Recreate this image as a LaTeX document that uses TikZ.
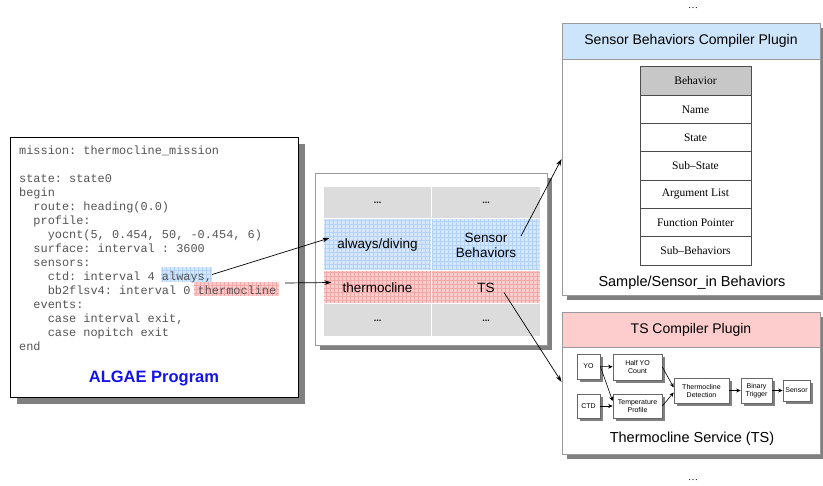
\documentclass[tikz,border=0pt]{standalone}
\usepackage{fontspec}
\setmainfont{Liberation Serif}
\setsansfont{Liberation Sans}
\setmonofont{Liberation Mono}
\usetikzlibrary{positioning,arrows.meta,calc,shadows}

\definecolor{cellblue}{HTML}{D4E7FC}
\definecolor{gridblue}{HTML}{B4D2F5}
\definecolor{cellred}{HTML}{FCCDCD}
\definecolor{gridred}{HTML}{F0A8A8}
\definecolor{cellgray}{HTML}{DCDCDC}
\definecolor{headblue}{HTML}{CDE5FA}
\definecolor{headred}{HTML}{FDCCCC}
\definecolor{codegray}{HTML}{555555}
\definecolor{algaeblue}{HTML}{1414E6}
\definecolor{shadowgray}{HTML}{808080}
\definecolor{framegray}{HTML}{9A9A9A}

\newcommand{\codetab}{\hspace*{1.2em}}

\begin{document}
\begin{tikzpicture}[x=1pt, y=-1pt,
    arrow/.style={-{Stealth[length=7pt,width=4.5pt]}, line width=0.7pt},
    minarrow/.style={-{Stealth[length=4.5pt,width=4pt]}, line width=0.6pt},
    panel/.style={draw=#1, fill=white, line width=0.9pt, inner sep=0pt},
    shade/.style={drop shadow={shadow xshift=#1, shadow yshift=-#1, fill=shadowgray, opacity=1}},
    gridcell/.style 2 args={fill=#1, inner sep=0pt, path picture={
        \draw[#2, line width=0.3pt, step=4pt] (path picture bounding box.south west)
            grid (path picture bounding box.north east);}},
    cellbox/.style={draw=white, line width=1pt, minimum width=109pt, minimum height=#1,
                font=\sffamily\fontsize{13.5}{15}\selectfont, align=center, inner sep=0pt},
    dots/.style={font=\sffamily\bfseries\fontsize{9}{10}\selectfont},
    code/.style={anchor=north west, align=left, inner sep=0pt, text=codegray,
                font=\ttfamily\fontsize{11.9}{14}\selectfont},
    headbox/.style={draw=framegray, line width=0.9pt, minimum width=258pt, minimum height=#1,
                font=\sffamily\fontsize{14}{16}\selectfont},
    behrow/.style={draw=black!70, line width=0.8pt, fill=white, minimum width=111pt,
                minimum height=28.3pt, inner sep=0pt, font=\fontsize{11.5}{13}\selectfont},
    flow/.style={draw=black!60, line width=0.7pt, fill=white, align=center, inner sep=0pt,
                font=\sffamily\fontsize{7}{8}\selectfont, shade=3pt},
    caption/.style={font=\sffamily\fontsize{14.5}{16}\selectfont},
]
\useasboundingbox (0,0) rectangle (823,486);

% ALGAE program
\node[panel=black, shade=7pt, minimum width=288pt, minimum height=260pt] (prog) at (154,267) {};
\node[gridcell={cellblue}{gridblue}, minimum width=51pt, minimum height=15pt] (hlA) at (186.5,274.5) {};
\node[gridcell={cellred}{gridred}, minimum width=85pt, minimum height=14pt] (hlT) at (236.5,289) {};
\node[code] (src) at (19,145.3) {mission: thermocline\_mission\\
\mbox{}\\
state: state0\\
begin\\
\codetab route: heading(0.0)\\
\codetab profile:\\
\codetab\codetab yocnt(5, 0.454, 50, -0.454, 6)\\
\codetab surface: interval : 3600\\
\codetab sensors:\\
\codetab\codetab ctd: interval 4 always,\\
\codetab\codetab bb2flsv4: interval 0 thermocline\\
\codetab events:\\
\codetab\codetab case interval exit,\\
\codetab\codetab case nopitch exit\\
end};
\node[font=\sffamily\bfseries\fontsize{16.5}{18}\selectfont, text=algaeblue] (progname) at (154,378) {ALGAE Program};

% behavior table
\node[panel=framegray, shade=5pt, minimum width=232pt, minimum height=172pt] (tbl) at (431,259) {};
\node[cellbox=32pt, fill=cellgray, dots] (d1) at (377.5,203) {...};
\node[cellbox=32pt, fill=cellgray, dots] (d2) at (486,203) {...};
\node[cellbox=52pt, gridcell={cellblue}{gridblue}] (cAl) at (377.5,245) {always/diving};
\node[cellbox=52pt, gridcell={cellblue}{gridblue}] (cSB) at (486,245) {Sensor\\Behaviors};
\node[cellbox=33pt, gridcell={cellred}{gridred}] (cTh) at (377.5,287.5) {thermocline};
\node[cellbox=33pt, gridcell={cellred}{gridred}] (cTS) at (486,287.5) {TS};
\node[cellbox=33pt, fill=cellgray, dots] (d3) at (377.5,320.5) {...};
\node[cellbox=33pt, fill=cellgray, dots] (d4) at (486,320.5) {...};

% sensor behaviors plugin
\node (topdots) at (693,8) {\dots};
\node[panel=framegray, shade=5pt, minimum width=258pt, minimum height=272pt] (sbox) at (691,159) {};
\node[headbox=36pt, fill=headblue] (shead) at (691,41) {Sensor Behaviors Compiler Plugin};
\node[behrow, fill=black!22] (beh0) at (695.5,81) {Behavior};
\foreach \lbl [count=\i] in {Name, State, Sub--State, Argument List, Function Pointer, Sub--Behaviors}
    \node[behrow] (beh\i) at (695.5,81+28.3*\i) {\lbl};
\node[caption] (scap) at (692,283) {Sample/Sensor\_in Behaviors};

% thermocline service plugin
\node[panel=framegray, shade=5pt, minimum width=258pt, minimum height=142pt] (tsbox) at (691,383) {};
\node[headbox=35pt, fill=headred] (thead) at (691,329.5) {TS Compiler Plugin};
\node[flow, minimum width=23pt, minimum height=25pt] (yo) at (588.5,366.5) {YO};
\node[flow, minimum width=23pt, minimum height=24pt] (ctd) at (588.5,406) {CTD};
\node[flow, minimum width=49pt, minimum height=26pt] (half) at (637.5,367) {Half YO\\Count};
\node[flow, minimum width=49pt, minimum height=24pt] (temp) at (637.5,406) {Temperature\\Profile};
\node[flow, minimum width=55pt, minimum height=25pt] (det) at (701.5,390.5) {Thermocline\\Detection};
\node[flow, minimum width=31pt, minimum height=25pt] (bin) at (756.5,390.5) {Binary\\Trigger};
\node[flow, minimum width=27pt, minimum height=21pt] (sen) at (796.5,390.5) {Sensor};
\draw[minarrow] (yo) -- (half);
\draw[minarrow] (yo.east) -- ($(temp.north west)!0.3!(temp.south west)$);
\draw[minarrow] (ctd) -- (temp);
\draw[minarrow] (half.east) -- ($(det.west)+(0,-3)$);
\draw[minarrow] (temp.east) -- ($(det.west)+(0,2)$);
\draw[minarrow] (det) -- (bin);
\draw[minarrow] (bin) -- (sen);
\node[caption] (tcap) at (692,439) {Thermocline Service (TS)};
\node (botdots) at (693,480) {\dots};

% program -> table -> plugins
\draw[arrow] (hlA.east) -- ($(cAl.west)+(7,-7)$);
\draw[arrow] ($(hlT.east)+(6,-6)$) -- ($(cTh.west)+(9,-5)$);
\draw[arrow] ($(cSB.east)+(-20,-9)$) -- (sbox.west);
\draw[arrow] ($(cTS.east)+(-37,5)$) -- ($(tsbox.west)+(0,-1)$);
\end{tikzpicture}
\end{document}
